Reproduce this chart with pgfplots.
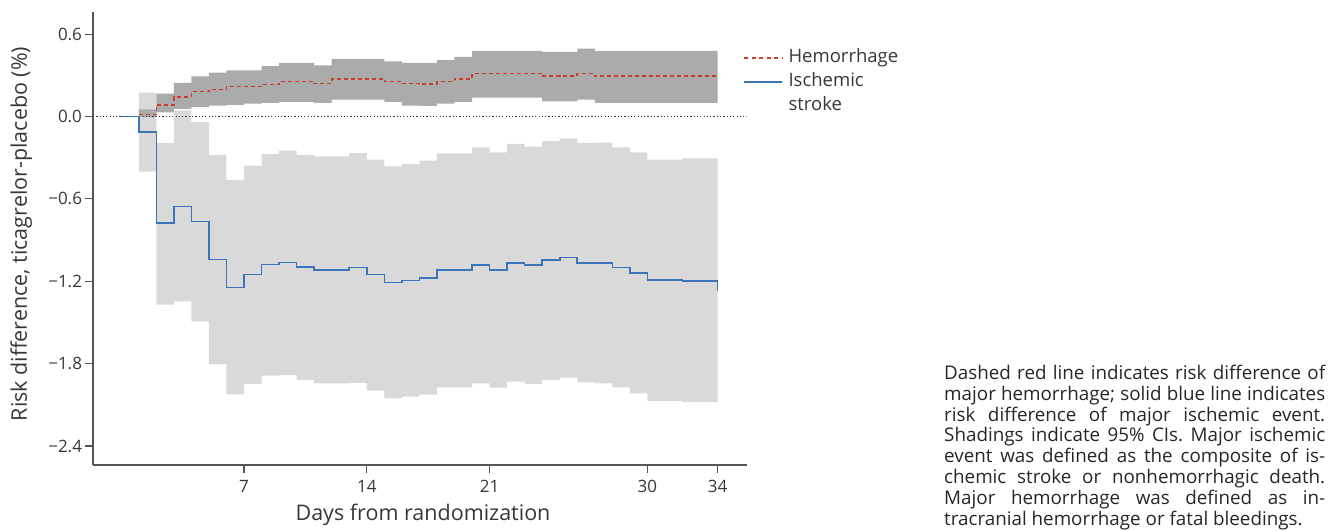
\documentclass[border=0pt]{standalone}
\usepackage{fontspec}
\setmainfont{Open Sans}
\usepackage{pgfplots}
\pgfplotsset{compat=1.18}
\usepgfplotslibrary{fillbetween}
\usepackage{pgfplotstable}
\frenchspacing

\definecolor{hemred}{RGB}{200,62,45}
\definecolor{ischblue}{RGB}{60,115,185}
\definecolor{darkband}{RGB}{171,171,171}
\definecolor{lightband}{RGB}{217,217,217}
\definecolor{axisgray}{RGB}{85,85,85}
\definecolor{textgray}{RGB}{55,55,55}

% 95% CI bands, value held from day to day+1
\pgfplotstableread{
day hu    hl     iu     il
1   0.051 -0.005  0.173 -0.402
2   0.166  0.030 -0.193 -1.370
3   0.244  0.055  0.044 -1.346
4   0.293  0.068 -0.041 -1.492
5   0.320  0.080 -0.280 -1.805
6   0.336  0.085 -0.461 -2.024
7   0.336  0.093 -0.358 -1.948
8   0.366  0.100 -0.273 -1.887
9   0.390  0.107 -0.249 -1.883
10  0.390  0.107 -0.280 -1.919
11  0.373  0.100 -0.290 -1.943
12  0.420  0.122 -0.290 -1.943
13  0.420  0.122 -0.266 -1.940
14  0.420  0.122 -0.315 -1.997
15  0.402  0.107 -0.363 -2.053
16  0.390  0.080 -0.346 -2.040
17  0.390  0.078 -0.322 -2.026
18  0.410  0.093 -0.268 -1.973
19  0.434  0.107 -0.268 -1.973
20  0.478  0.137 -0.224 -1.943
21  0.478  0.137 -0.261 -1.975
22  0.478  0.137 -0.200 -1.931
23  0.478  0.137 -0.219 -1.948
24  0.471  0.110 -0.180 -1.919
25  0.471  0.110 -0.159 -1.902
26  0.495  0.122 -0.193 -1.936
27  0.478  0.100 -0.190 -1.943
28  0.478  0.100 -0.224 -1.973
29  0.478  0.100 -0.261 -2.016
30  0.478  0.100 -0.315 -2.073
31  0.478  0.100 -0.315 -2.073
32  0.478  0.100 -0.305 -2.080
33  0.478  0.100 -0.305 -2.080
34  0.478  0.100 -0.305 -2.080
}\bands

% risk differences
\pgfplotstableread{
day hm    im
0   nan    0
1   0.015 -0.115
2   0.085 -0.775
3   0.141 -0.656
4   0.183 -0.766
5   0.197 -1.041
6   0.219 -1.244
7   0.219 -1.151
8   0.232 -1.078
9   0.256 -1.063
10  0.256 -1.097
11  0.239 -1.117
12  0.273 -1.117
13  0.273 -1.100
14  0.273 -1.151
15  0.256 -1.209
16  0.239 -1.195
17  0.235 -1.175
18  0.256 -1.117
19  0.273 -1.117
20  0.312 -1.080
21  0.312 -1.117
22  0.312 -1.066
23  0.312 -1.080
24  0.293 -1.046
25  0.293 -1.027
26  0.312 -1.066
27  0.293 -1.066
28  0.293 -1.100
29  0.293 -1.139
30  0.293 -1.192
31  0.293 -1.192
32  0.293 -1.197
33  0.293 -1.197
34  0.293 -1.197
}\lines

\begin{document}
\begin{tikzpicture}
\begin{axis}[
  scale only axis,
  width=653.5pt, height=453pt,
  xmin=-1.61, xmax=35.65,
  ymin=-2.538, ymax=0.761,
  axis lines=left,
  axis line style={-, axisgray, line width=1.4pt},
  tick align=outside,
  major tick length=7.5pt,
  tick style={axisgray, line width=1.2pt},
  xtick={7,14,21,30,34},
  xticklabels={7,14,21,30,34},
  ytick={-2.4,-1.8,-1.2,-0.6,0,0.6},
  yticklabels={−2.4,−1.8,−1.2,−0.6,0.0,0.6},
  tick label style={font=\fontsize{17}{20}\selectfont, text=textgray},
  xticklabel style={yshift=-4pt},
  xlabel={Days from randomization},
  ylabel={Risk difference, ticagrelor-placebo (\%)},
  label style={font=\fontsize{21.5}{24}\selectfont, text=textgray},
  xlabel style={at={(axis description cs:0.505,-0.11)}, anchor=center},
  ylabel style={at={(axis description cs:-0.110,0.51)}, anchor=center},
  legend cell align=left,
  legend style={at={(axis description cs:0.9946,0.919)}, anchor=north west,
    draw=none, fill=none, inner sep=0pt, row sep=5.5pt, column sep=0pt,
    font=\fontsize{18.5}{22}\selectfont, text=textgray,
    nodes={inner xsep=5pt, inner ysep=0pt, text height=14pt, text depth=4.5pt}},
  legend image code/.code={\draw[#1] (0pt,0pt) -- (38pt,0pt);},
]
% ischemic CI band
\addplot[name path=iu, draw=none, const plot, forget plot] table[x=day, y=iu] {\bands};
\addplot[name path=il, draw=none, const plot, forget plot] table[x=day, y=il] {\bands};
\addplot[fill=lightband, draw=none, forget plot] fill between[of=iu and il];
% hemorrhage CI band
\addplot[name path=hu, draw=none, const plot, forget plot] table[x=day, y=hu] {\bands};
\addplot[name path=hl, draw=none, const plot, forget plot] table[x=day, y=hl] {\bands};
\addplot[fill=darkband, draw=none, forget plot] fill between[of=hu and hl];
% zero reference
\addplot[textgray, line width=1.2pt, dash pattern=on 1.2pt off 2.1pt, forget plot]
  coordinates {(-1.61,0) (35.65,0)};
% risk difference lines
\addplot[ischblue, line width=1.6pt, const plot, forget plot] table[x=day, y=im] {\lines};
\addplot[ischblue, line width=1.6pt, forget plot] coordinates {(34,-1.197) (34,-1.273)};
\addplot[hemred, line width=1.6pt, dash pattern=on 4pt off 3pt, const plot, forget plot]
  table[x=day, y=hm] {\lines};
\addlegendimage{hemred, line width=2.2pt, dash pattern=on 4pt off 3.5pt}
\addlegendentry{Hemorrhage}
\addlegendimage{ischblue, line width=2.4pt}
\addlegendentry{Ischemic}
\addlegendimage{empty legend}
\addlegendentry{stroke}
\end{axis}
\node[anchor=north west, inner sep=0pt, text width=381pt, align=justify,
      font=\fontsize{18.8}{20.8}\selectfont, text=black!85]
  at (851pt,100pt)
  {Dashed red line indicates risk difference of\linebreak
   major hemorrhage; solid blue line indicates\linebreak
   risk difference of major ischemic event.\linebreak
   Shadings indicate 95\% CIs. Major ischemic\linebreak
   event was defined as the composite of is-\linebreak
   chemic stroke or nonhemorrhagic death.\linebreak
   Major hemorrhage was defined as in-\linebreak
   tracranial hemorrhage or fatal bleedings.};
\pgfresetboundingbox
\path[use as bounding box] (-93pt,-65pt) rectangle (1236pt,465pt);
\end{tikzpicture}
\end{document}
